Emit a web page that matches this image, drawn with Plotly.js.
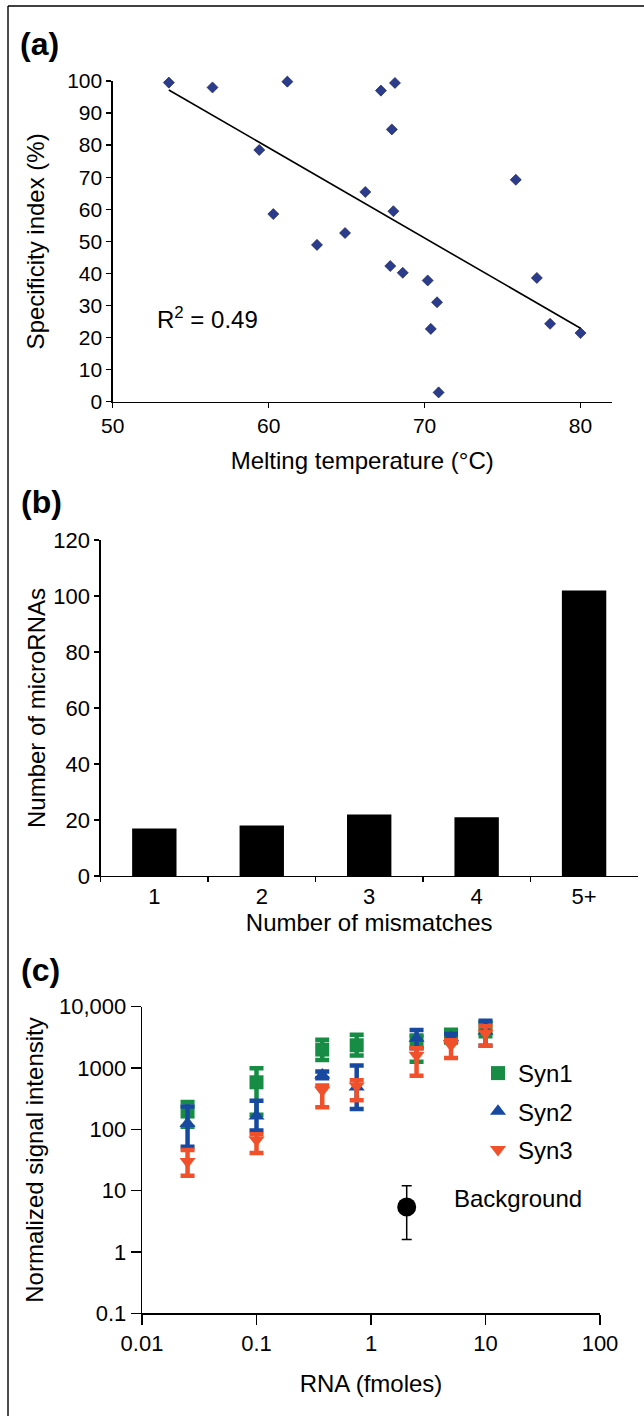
<!DOCTYPE html>
<html>
<head>
<meta charset="utf-8">
<script src="https://cdn.plot.ly/plotly-3.0.1.min.js"></script>
<style>html,body{margin:0;padding:0;background:#fff;}#chart{width:644px;height:1416px;}</style>
</head>
<body>
<div id="chart"></div>
<script>
// ---------- Panel (a): specificity vs melting temperature ----------
var meltTemp = [53.6, 56.4, 61.2, 59.4, 60.3, 63.1, 64.9, 66.2, 67.2, 68.1, 67.9, 68.0, 67.8, 68.6, 70.2, 70.8, 70.4, 70.9, 75.85, 77.2, 78.05, 80.0];
var specIndex = [99.5, 98.0, 99.8, 78.5, 58.5, 48.9, 52.6, 65.4, 97.0, 99.4, 84.9, 59.4, 42.3, 40.2, 37.8, 31.0, 22.7, 2.9, 69.2, 38.6, 24.3, 21.4];
var trendX = [53.6, 80.0];
var trendY = [97.2, 22.9];
var r2Label = "R<sup>2</sup> = 0.49";

// ---------- Panel (b): mismatches histogram ----------
var mismatchCats = ["1", "2", "3", "4", "5+"];
var microRNACounts = [17, 18, 22, 21, 102];

// ---------- Panel (c): signal intensity vs RNA amount ----------
var rnaFmoles = [0.025, 0.1, 0.375, 0.75, 2.5, 5, 10];
var syn1Mean = [195, 585, 2000, 2350, 2700, 3300, 4500];
var syn1Hi   = [280, 990, 2900, 3500, 3400, 4200, 5600];
var syn1Lo   = [110, 173, 1350, 1600, 1260, 2600, 3300];
var syn2Mean = [125, 165, 770, 490, 3050, 3150, 4000];
var syn2Hi   = [235, 293, 880, 1100, 4150, 3600, 5900];
var syn2Lo   = [52, 96, 680, 215, 2100, 2700, 2300];
var syn3Mean = [30, 67, 436, 508, 1620, 2370, 3700];
var syn3Hi   = [46, 83, 520, 630, 2100, 2850, 4800];
var syn3Lo   = [17.5, 41, 230, 297, 750, 1450, 2300];
var bgX = [2.05];
var bgMean = [5.4];
var bgHi = [12];
var bgLo = [1.6];
var yTickVals = [0.1, 1, 10, 100, 1000, 10000];
var yTickText = ["0.1", "1", "10", "100", "1000", "10,000"];
var xTickVals = [0.01, 0.1, 1, 10, 100];
var xTickText = ["0.01", "0.1", "1", "10", "100"];

var FONT = "Liberation Sans, Arial, Helvetica, sans-serif";
var GREEN = "#178C45", BLUE = "#1849A0", ORANGE = "#F0502A";

function diff(a, b) { return a.map(function (v, i) { return v - b[i]; }); }

var W = 644, H = 1416;
function px(x) { return x / W; }
function py(y) { return 1 - y / H; }

var traces = [
  {type: "scatter", mode: "markers", x: meltTemp, y: specIndex, xaxis: "x", yaxis: "y",
   marker: {symbol: "diamond", size: 8.5, color: "#2C3C8C", line: {color: "#0d1540", width: 0.6}},
   cliponaxis: false, showlegend: false},
  {type: "scatter", mode: "lines", x: trendX, y: trendY, xaxis: "x", yaxis: "y",
   line: {color: "#000", width: 1.6}, showlegend: false},
  {type: "bar", x: mismatchCats, y: microRNACounts, xaxis: "x2", yaxis: "y2",
   marker: {color: "#000", line: {width: 0}}, showlegend: false},
  {type: "scatter", mode: "markers", name: "Syn1", legendgroup: "g1", x: rnaFmoles, y: syn1Mean, xaxis: "x3", yaxis: "y3",
   marker: {symbol: "square", size: 14, color: GREEN},
   error_y: {type: "data", symmetric: false, array: diff(syn1Hi, syn1Mean), arrayminus: diff(syn1Mean, syn1Lo), color: GREEN, thickness: 4.5, width: 7}},
  {type: "scatter", mode: "markers", name: "Syn2", legendgroup: "g2", x: rnaFmoles, y: syn2Mean, xaxis: "x3", yaxis: "y3",
   marker: {symbol: "triangle-up", size: 14, color: BLUE},
   error_y: {type: "data", symmetric: false, array: diff(syn2Hi, syn2Mean), arrayminus: diff(syn2Mean, syn2Lo), color: BLUE, thickness: 4.5, width: 7}},
  {type: "scatter", mode: "markers", name: "Syn3", legendgroup: "g3", x: rnaFmoles, y: syn3Mean, xaxis: "x3", yaxis: "y3",
   marker: {symbol: "triangle-down", size: 14, color: ORANGE},
   error_y: {type: "data", symmetric: false, array: diff(syn3Hi, syn3Mean), arrayminus: diff(syn3Mean, syn3Lo), color: ORANGE, thickness: 4.5, width: 7}},
  {type: "scatter", mode: "markers", name: "Background", x: bgX, y: bgMean, xaxis: "x3", yaxis: "y3",
   marker: {symbol: "circle", size: 19, color: "#000"},
   error_y: {type: "data", symmetric: false, array: diff(bgHi, bgMean), arrayminus: diff(bgMean, bgLo), color: "#000", thickness: 1.5, width: 5},
   showlegend: false}
];

var axBase = {showline: true, linecolor: "#000", linewidth: 1.3, ticks: "outside", ticklen: 5, tickwidth: 1.3,
  tickcolor: "#000", showgrid: false, zeroline: false, automargin: false, fixedrange: true};
function ax(o) { return Object.assign({}, axBase, o); }

var layout = {
  width: W, height: H,
  margin: {l: 0, r: 0, t: 0, b: 0},
  paper_bgcolor: "#fff", plot_bgcolor: "rgba(0,0,0,0)",
  font: {family: FONT, color: "#000", size: 20},
  bargap: 0.587,
  xaxis: ax({domain: [px(112.7), px(611.7)], anchor: "y", range: [50, 82], tickvals: [50, 60, 70, 80],
    tickfont: {size: 21}, title: {text: "Melting temperature (\u00B0C)", font: {size: 24}, standoff: 16}}),
  yaxis: ax({domain: [py(401.7), py(81)], anchor: "x", range: [0, 100], dtick: 10,
    tickfont: {size: 21}, title: {text: "Specificity index (%)", font: {size: 24}, standoff: 15}}),
  xaxis2: ax({domain: [px(100.6), px(637.8)], anchor: "y2", type: "category", range: [-0.5, 4.5], tickson: "boundaries",
    tickfont: {size: 22}, title: {text: "Number of mismatches", font: {size: 24}, standoff: 0}}),
  yaxis2: ax({domain: [py(876), py(540)], anchor: "x2", range: [0, 120], dtick: 20,
    tickfont: {size: 22}, title: {text: "Number of microRNAs", font: {size: 24}, standoff: 0}}),
  xaxis3: ax({domain: [px(142), px(600)], anchor: "y3", type: "log", range: [-2, 2], tickvals: xTickVals, ticktext: xTickText,
    ticklen: 10, tickfont: {size: 22}, title: {text: "RNA (fmoles)", font: {size: 24}, standoff: 20}}),
  yaxis3: ax({domain: [py(1313.3), py(1006.7)], anchor: "x3", type: "log", range: [-1, 4], tickvals: yTickVals, ticktext: yTickText,
    ticklen: 10, tickfont: {size: 22}, title: {text: "Normalized signal intensity", font: {size: 24}, standoff: 8}}),
  showlegend: true,
  legend: {x: px(478), y: py(1051), xanchor: "left", yanchor: "top", bgcolor: "rgba(0,0,0,0)",
    font: {size: 24}, tracegroupgap: 4, traceorder: "grouped", itemclick: false},
  annotations: [
    {xref: "paper", yref: "paper", x: px(18), y: py(44), xanchor: "left", yanchor: "middle", text: "<b>(a)</b>", showarrow: false, font: {size: 32}},
    {xref: "paper", yref: "paper", x: px(19), y: py(502), xanchor: "left", yanchor: "middle", text: "<b>(b)</b>", showarrow: false, font: {size: 32}},
    {xref: "paper", yref: "paper", x: px(19), y: py(970), xanchor: "left", yanchor: "middle", text: "<b>(c)</b>", showarrow: false, font: {size: 32}},
    {xref: "x", yref: "y", x: 52.7, y: 26, xanchor: "left", yanchor: "middle", text: r2Label, showarrow: false, font: {size: 24}},
    {xref: "paper", yref: "paper", x: px(452), y: py(1198), xanchor: "left", yanchor: "middle", text: "Background", showarrow: false, font: {size: 24}}
  ],
  shapes: [
    {type: "line", xref: "paper", yref: "paper", x0: px(8), x1: px(8), y0: 0, y1: py(6), line: {color: "#000", width: 1.4}},
    {type: "line", xref: "paper", yref: "paper", x0: px(8), x1: 1, y0: py(6), y1: py(6), line: {color: "#000", width: 1.4}}
  ]
};

Plotly.newPlot("chart", traces, layout, {displayModeBar: false, staticPlot: true});
</script>
</body>
</html>
